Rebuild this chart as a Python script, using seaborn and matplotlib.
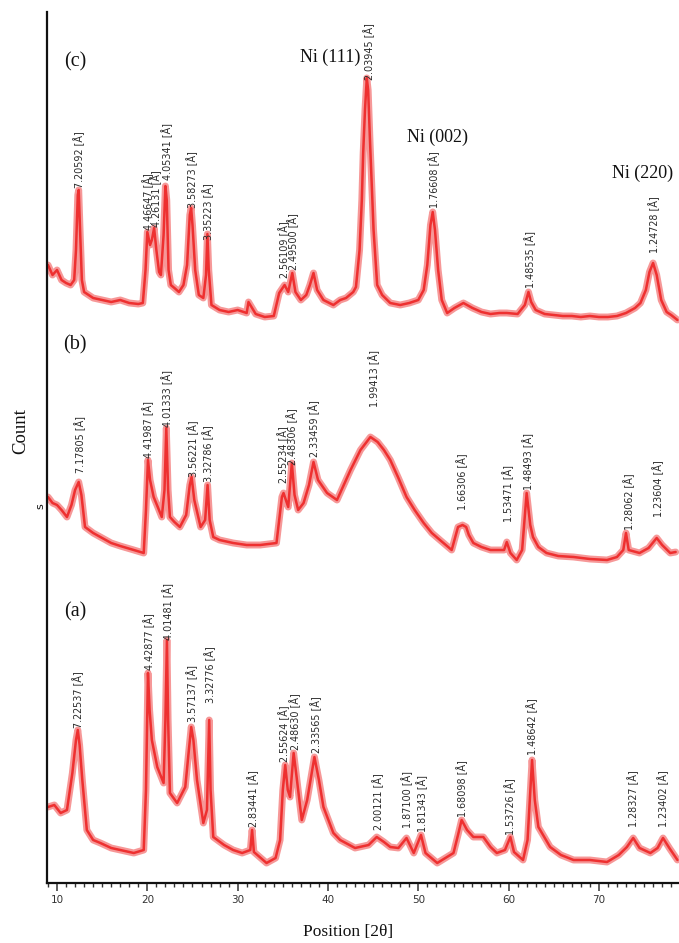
import numpy as np
import pandas as pd
import matplotlib
matplotlib.use("Agg")
import matplotlib.pyplot as plt
import matplotlib.patheffects as pe
import seaborn as sns

# ---------------- data ----------------
# pattern (c)
c_theta = [9.0, 9.5, 10.0, 10.5, 11.0, 11.5, 11.9, 12.1, 12.3, 12.4, 12.55, 12.75, 13.0, 14.0, 15.0,
           16.0, 17.0, 18.0, 19.0, 19.5, 19.8, 20.0, 20.3, 20.5, 20.75, 21.0, 21.3, 21.5, 21.8, 22.0,
           22.15, 22.35, 22.6, 23.0, 23.5, 24.0, 24.4, 24.7, 24.85, 25.0, 25.3, 25.7, 26.2, 26.5, 26.65,
           26.8, 27.1, 28.0, 29.0, 30.0, 31.0, 31.2, 32.0, 33.0, 34.0, 34.6, 35.2, 35.6, 36.05, 36.4,
           37.0, 37.6, 38.0, 38.4, 38.8, 39.5, 40.6, 41.35, 42.0, 42.8, 43.1, 43.5, 43.75, 43.9, 44.1,
           44.3, 44.45, 44.65, 44.85, 45.05, 45.45, 46.0, 46.9, 48.0, 49.0, 50.0, 50.6, 51.0, 51.35, 51.6,
           51.85, 52.2, 52.6, 53.2, 54.0, 55.0, 56.0, 57.0, 58.0, 59.0, 59.8, 61.0, 61.8, 62.2, 62.5,
           63.0, 64.0, 65.0, 66.0, 67.0, 68.0, 69.0, 70.0, 71.0, 72.0, 73.0, 74.0, 74.6, 75.2, 75.6,
           76.0, 76.4, 76.9, 77.5, 78.0, 78.7]
c_count = [618, 608, 613, 603, 600, 598, 603, 633, 688, 693, 653, 603, 591, 585, 583,
           581, 583, 580, 579, 580, 613, 651, 638, 643, 655, 633, 611, 608, 648, 697,
           683, 613, 598, 595, 591, 598, 618, 668, 675, 658, 613, 588, 585, 608, 649,
           613, 578, 573, 571, 573, 570, 581, 569, 566, 567, 590, 598, 591, 610, 591,
           583, 588, 598, 610, 593, 583, 578, 583, 585, 591, 596, 633, 683, 730, 773,
           805, 793, 743, 698, 653, 598, 588, 580, 578, 580, 583, 593, 618, 658, 671,
           653, 613, 583, 570, 575, 580, 575, 571, 569, 570, 570, 569, 578, 591, 581,
           573, 569, 568, 567, 567, 566, 567, 566, 566, 567, 570, 575, 580, 593, 611,
           620, 608, 583, 571, 568, 563]

# pattern (b)
b_theta = [9.0, 9.5, 10.0, 10.5, 11.1, 11.6, 12.0, 12.4, 12.7, 13.1, 14.0, 14.8, 16.0, 17.0, 18.5,
           19.6, 19.85, 20.07, 20.3, 20.7, 21.2, 21.6, 21.9, 22.1, 22.3, 22.5, 23.0, 23.6, 24.3, 24.7,
           24.9, 25.2, 25.9, 26.4, 26.67, 26.9, 27.3, 28.0, 29.5, 31.0, 32.5, 34.3, 34.9, 35.08, 35.6,
           36.0, 36.3, 36.7, 37.3, 37.9, 38.4, 38.9, 39.9, 41.0, 41.35, 42.5, 43.6, 44.7, 45.5, 46.2,
           46.9, 47.8, 48.7, 49.6, 50.6, 51.5, 52.4, 53.7, 54.4, 54.9, 55.3, 55.6, 56.1, 57.0, 58.0,
           59.5, 59.8, 60.2, 60.9, 61.5, 62.0, 62.4, 62.7, 63.3, 64.2, 65.5, 67.2, 69.0, 70.9, 72.0,
           72.7, 73.0, 73.3, 74.5, 75.5, 76.4, 77.0, 77.9, 78.5]
b_count = [386, 380, 378, 373, 366, 378, 393, 401, 388, 356, 350, 346, 340, 337, 333,
           330, 373, 423, 403, 386, 375, 366, 393, 455, 393, 366, 361, 356, 368, 398,
           406, 383, 356, 363, 398, 363, 346, 343, 340, 338, 338, 340, 386, 390, 376,
           420, 388, 373, 380, 398, 421, 403, 390, 383, 390, 413, 433, 446, 441, 433,
           423, 405, 386, 373, 360, 350, 343, 333, 356, 358, 356, 348, 340, 336, 333,
           333, 341, 330, 323, 333, 390, 358, 346, 336, 330, 327, 326, 324, 323, 326,
           333, 350, 333, 330, 335, 345, 338, 330, 331]

# pattern (a)
a_theta = [9.0, 9.7, 10.4, 11.1, 11.7, 12.1, 12.3, 12.5, 12.8, 13.3, 14.0, 14.8, 16.0, 17.0, 18.5,
           19.6, 19.85, 20.07, 20.25, 20.5, 21.1, 21.8, 22.0, 22.17, 22.3, 22.5, 23.3, 24.2, 24.6, 24.86,
           25.1, 25.5, 26.2, 26.6, 26.85, 27.0, 27.3, 28.5, 29.5, 30.5, 31.4, 31.6, 31.8, 33.2, 34.2,
           34.7, 35.0, 35.27, 35.55, 35.8, 36.2, 36.5, 37.1, 37.7, 38.5, 39.0, 39.5, 40.6, 41.35, 43.0,
           44.5, 45.4, 46.2, 46.9, 47.8, 48.7, 49.5, 50.3, 50.8, 52.1, 53.0, 53.9, 54.4, 54.8, 55.4,
           56.1, 57.2, 58.0, 58.7, 59.6, 60.2, 60.6, 61.6, 62.1, 62.6, 62.9, 63.3, 64.6, 65.8, 67.2,
           69.0, 70.9, 72.2, 73.1, 73.8, 74.5, 75.7, 76.5, 77.1, 77.8, 78.7]
a_count = [76, 78, 70, 73, 110, 143, 153, 138, 103, 53, 43, 40, 35, 33, 30,
           33, 93, 210, 173, 143, 116, 100, 163, 243, 163, 90, 80, 96, 133, 156,
           143, 103, 60, 73, 163, 93, 46, 38, 33, 30, 33, 53, 31, 20, 25,
           43, 93, 118, 93, 86, 130, 108, 63, 83, 126, 103, 76, 50, 43, 35,
           38, 46, 41, 36, 35, 45, 30, 48, 30, 20, 25, 30, 48, 63, 53,
           46, 46, 36, 30, 33, 46, 31, 23, 43, 123, 83, 56, 36, 28, 23,
           23, 21, 28, 36, 45, 35, 30, 35, 45, 35, 23]

# peak labels: position (2theta), label base (count), d-spacing text
c_lab_pos = [12.47, 20.10, 20.99, 22.21, 24.97, 26.74, 35.16, 36.16, 44.56, 51.76, 62.38, 76.10]
c_lab_y = [695, 653, 656, 703, 675, 643, 605, 613, 803, 675, 595, 630]
c_lab_d = ["7.20592", "4.46647", "4.26131", "4.05341", "3.58273", "3.35223", "2.56109", "2.49500",
           "2.03945", "1.76608", "1.48535", "1.24728"]

b_lab_pos = [12.58, 20.10, 22.21, 25.08, 26.74, 35.04, 36.04, 38.48, 45.12, 54.86, 59.95, 62.16, 73.34, 76.55]
b_lab_y = [410, 425, 456, 406, 401, 400, 418, 426, 476, 373, 361, 393, 353, 366]
b_lab_d = ["7.17805", "4.41987", "4.01333", "3.56221", "3.32786", "2.55234", "2.48306", "2.33459",
           "1.99413", "1.66306", "1.53471", "1.48493", "1.28062", "1.23604"]

a_lab_pos = [12.36, 20.21, 22.32, 24.97, 26.96, 31.72, 35.16, 36.37, 38.70, 45.56, 48.77, 50.43,
             54.86, 60.15, 62.58, 73.85, 77.17]
a_lab_y = [155, 213, 243, 161, 180, 56, 121, 133, 130, 53, 55, 51, 66, 48, 128, 56, 56]
a_lab_d = ["7.22537", "4.42877", "4.01481", "3.57137", "3.32776", "2.83441", "2.55624", "2.48630",
           "2.33565", "2.00121", "1.87100", "1.81343", "1.68098", "1.53726", "1.48642", "1.28327",
           "1.23402"]

panel_names = ["(c)", "(b)", "(a)"]
panel_pos = [12.03, 12.03, 12.03]
panel_y = [821, 538, 271]

ni_names = ["Ni (111)", "Ni (002)", "Ni (220)"]
ni_pos = [40.25, 52.09, 74.88]
ni_y = [826, 746, 710]

x_ticks = [10, 20, 30, 40, 50, 60, 70]

# ---------------- figure ----------------
sns.set_theme(style="white")
plt.rcParams["font.family"] = ["DejaVu Sans"]

fig = plt.figure(figsize=(6.79, 9.43), dpi=100)
ax = fig.add_axes([47 / 679, 60 / 943, 1 - 47 / 679, (883 - 12) / 943])

df = pd.concat([
    pd.DataFrame({"theta": c_theta, "count": c_count, "pattern": "c"}),
    pd.DataFrame({"theta": b_theta, "count": b_count, "pattern": "b"}),
    pd.DataFrame({"theta": a_theta, "count": a_count, "pattern": "a"}),
])

red = "#ee3030"
for p in ["c", "b", "a"]:
    sub = df[df["pattern"] == p]
    sns.lineplot(data=sub, x="theta", y="count", ax=ax, color=red, lw=1.8,
                 estimator=None, sort=False, legend=False,
                 path_effects=[pe.Stroke(linewidth=5, foreground="#f04444", alpha=0.55), pe.Normal()])

for pos, yy, d in zip(c_lab_pos + b_lab_pos + a_lab_pos, c_lab_y + b_lab_y + a_lab_y,
                      c_lab_d + b_lab_d + a_lab_d):
    ax.text(pos, yy, f"{d} [Å]", rotation=90, ha="center", va="bottom",
            fontsize=6.9, color="#2a2a2a", family="DejaVu Sans")

for name, pos, yy in zip(panel_names, panel_pos, panel_y):
    ax.text(pos, yy, name, ha="center", va="center", fontsize=14.5,
            family="Liberation Serif", color="#111111")

for name, pos, yy in zip(ni_names, ni_pos, ni_y):
    ax.text(pos, yy, name, ha="center", va="center", fontsize=13,
            family="Liberation Serif", color="#111111")

ax.set_xlim(8.89, 78.87)
ax.set_ylim(0, 871)
ax.set_xticks(x_ticks)
ax.set_xticks(np.arange(9, 79, 1), minor=True)
ax.set_yticks([])
ax.tick_params(axis="x", which="major", direction="out", length=5.5, width=1.1,
               colors="#333333", labelsize=7.5, pad=3, bottom=True)
ax.tick_params(axis="x", which="minor", direction="out", length=2.8, width=1.0,
               colors="#333333", bottom=True)
for s in ["top", "right"]:
    ax.spines[s].set_visible(False)
for s in ["left", "bottom"]:
    ax.spines[s].set_visible(True)
    ax.spines[s].set_color("#111111")
    ax.spines[s].set_linewidth(1.6)

ax.set_xlabel("")
ax.set_ylabel("")
fig.text(21 / 679, 1 - 431 / 943, "Count", rotation=90, ha="center", va="center",
         fontsize=13.5, family="Liberation Serif", color="#111111")
fig.text(348 / 679, 1 - 932 / 943, "Position [2θ]", ha="center", va="center",
         fontsize=12.5, family="Liberation Serif", color="#111111")
fig.text(40 / 679, 1 - 506 / 943, "s", rotation=90, ha="center", va="center",
         fontsize=8, family="DejaVu Sans", color="#111111")

fig.savefig("out.png", dpi=100)
